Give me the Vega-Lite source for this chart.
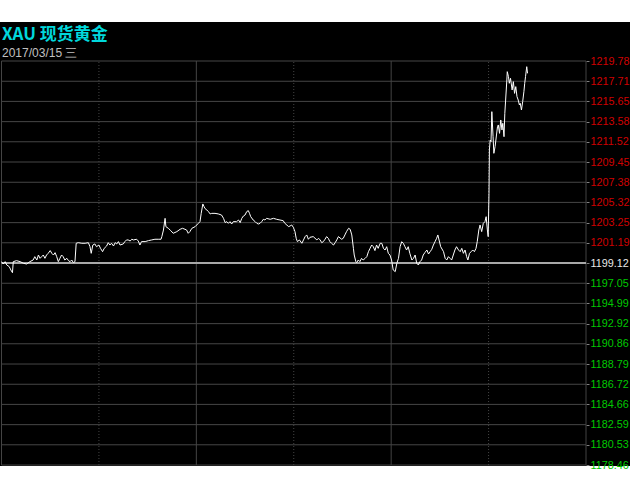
{
  "$schema": "https://vega.github.io/schema/vega-lite/v6.json",
  "width": 630,
  "height": 444,
  "autosize": {"type": "none"},
  "padding": {"left": 0, "top": 22, "right": 0, "bottom": 24},
  "background": "#ffffff",
  "title": {
    "text": "XAU 现货黄金",
    "subtitle": "2017/03/15 三",
    "anchor": "start",
    "frame": "group",
    "offset": -38,
    "dx": 2,
    "font": "Noto Sans CJK SC",
    "fontSize": 17,
    "fontWeight": "bold",
    "color": "#00d8dc",
    "subtitleFont": "Liberation Sans",
    "subtitleFontSize": 12,
    "subtitleColor": "#c0c0c0",
    "subtitlePadding": 4
  },
  "config": {
    "view": {"fill": "#000000", "stroke": null},
    "axisX": {"disable": true}
  },
  "datasets": {
    "levels": [
      {"p": 1178.46}, {"p": 1180.53}, {"p": 1182.59}, {"p": 1184.66}, {"p": 1186.72},
      {"p": 1188.79}, {"p": 1190.86}, {"p": 1192.92}, {"p": 1194.99}, {"p": 1197.05},
      {"p": 1199.12}, {"p": 1201.19}, {"p": 1203.25}, {"p": 1205.32}, {"p": 1207.38},
      {"p": 1209.45}, {"p": 1211.52}, {"p": 1213.58}, {"p": 1215.65}, {"p": 1217.71},
      {"p": 1219.78}
    ],
    "times": [
      {"t": 0}, {"t": 240}, {"t": 480}, {"t": 720}, {"t": 960}, {"t": 1200}, {"t": 1440}
    ],
    "prices": [
      {"t":0,"p":1199.26},{"t":4,"p":1199.02},{"t":9,"p":1199.26},{"t":13,"p":1198.92},{"t":19,"p":1198.75},
      {"t":23,"p":1198.41},{"t":27,"p":1198.13},{"t":29,"p":1199.26},{"t":37,"p":1199.36},{"t":46,"p":1199.26},
      {"t":54,"p":1199.09},{"t":62,"p":1199.02},{"t":70,"p":1199.26},{"t":78,"p":1199.43},{"t":82,"p":1199.77},
      {"t":87,"p":1199.43},{"t":91,"p":1199.94},{"t":95,"p":1199.60},{"t":99,"p":1199.77},{"t":103,"p":1199.94},
      {"t":107,"p":1199.60},{"t":111,"p":1199.94},{"t":115,"p":1200.11},{"t":120,"p":1200.39},{"t":124,"p":1200.11},
      {"t":128,"p":1199.94},{"t":132,"p":1200.18},{"t":136,"p":1199.77},{"t":140,"p":1199.26},{"t":144,"p":1199.60},
      {"t":148,"p":1199.94},{"t":152,"p":1199.77},{"t":156,"p":1199.43},{"t":161,"p":1199.60},{"t":165,"p":1199.36},
      {"t":169,"p":1199.26},{"t":173,"p":1199.43},{"t":177,"p":1199.16},{"t":181,"p":1199.26},{"t":184,"p":1201.14},
      {"t":189,"p":1201.20},{"t":198,"p":1201.14},{"t":206,"p":1201.14},{"t":214,"p":1201.20},{"t":218,"p":1200.79},
      {"t":221,"p":1200.11},{"t":225,"p":1200.96},{"t":230,"p":1201.07},{"t":234,"p":1200.79},{"t":240,"p":1200.96},
      {"t":244,"p":1200.62},{"t":249,"p":1200.28},{"t":253,"p":1200.62},{"t":259,"p":1200.86},{"t":263,"p":1201.20},
      {"t":267,"p":1200.96},{"t":271,"p":1201.14},{"t":276,"p":1200.86},{"t":280,"p":1201.20},{"t":284,"p":1201.07},
      {"t":288,"p":1201.31},{"t":292,"p":1200.96},{"t":300,"p":1201.07},{"t":304,"p":1201.31},{"t":308,"p":1201.48},
      {"t":312,"p":1201.48},{"t":317,"p":1201.37},{"t":321,"p":1201.55},{"t":325,"p":1201.48},{"t":333,"p":1201.55},
      {"t":337,"p":1201.37},{"t":341,"p":1200.96},{"t":345,"p":1201.31},{"t":354,"p":1201.31},{"t":362,"p":1201.41},
      {"t":370,"p":1201.48},{"t":378,"p":1201.55},{"t":386,"p":1201.55},{"t":393,"p":1201.55},{"t":395,"p":1201.82},
      {"t":399,"p":1202.50},{"t":403,"p":1203.69},{"t":405,"p":1202.84},{"t":411,"p":1202.67},{"t":417,"p":1202.43},
      {"t":423,"p":1202.16},{"t":432,"p":1202.33},{"t":440,"p":1202.57},{"t":446,"p":1202.67},{"t":452,"p":1202.57},
      {"t":456,"p":1202.50},{"t":460,"p":1202.16},{"t":464,"p":1202.33},{"t":469,"p":1202.67},{"t":477,"p":1202.84},
      {"t":485,"p":1203.18},{"t":489,"p":1203.35},{"t":492,"p":1204.20},{"t":496,"p":1205.16},{"t":499,"p":1204.89},
      {"t":501,"p":1204.71},{"t":506,"p":1204.54},{"t":510,"p":1204.37},{"t":514,"p":1204.14},{"t":518,"p":1204.20},
      {"t":526,"p":1204.20},{"t":534,"p":1204.14},{"t":542,"p":1204.03},{"t":547,"p":1203.69},{"t":551,"p":1203.25},
      {"t":555,"p":1203.35},{"t":559,"p":1203.18},{"t":563,"p":1203.35},{"t":567,"p":1203.11},{"t":571,"p":1203.35},
      {"t":579,"p":1203.35},{"t":584,"p":1203.52},{"t":588,"p":1203.25},{"t":592,"p":1203.69},{"t":596,"p":1203.93},
      {"t":600,"p":1204.03},{"t":604,"p":1204.37},{"t":608,"p":1204.48},{"t":611,"p":1204.20},{"t":614,"p":1203.86},
      {"t":620,"p":1203.52},{"t":625,"p":1203.35},{"t":629,"p":1203.18},{"t":633,"p":1203.11},{"t":637,"p":1203.18},
      {"t":641,"p":1203.35},{"t":645,"p":1203.59},{"t":649,"p":1203.52},{"t":653,"p":1203.69},{"t":662,"p":1203.59},
      {"t":670,"p":1203.69},{"t":678,"p":1203.59},{"t":686,"p":1203.52},{"t":694,"p":1203.45},{"t":698,"p":1203.18},
      {"t":703,"p":1203.01},{"t":707,"p":1202.84},{"t":711,"p":1202.91},{"t":715,"p":1203.01},{"t":719,"p":1202.77},
      {"t":723,"p":1202.33},{"t":726,"p":1201.65},{"t":729,"p":1201.31},{"t":734,"p":1201.48},{"t":740,"p":1201.14},
      {"t":744,"p":1201.48},{"t":748,"p":1201.82},{"t":752,"p":1201.99},{"t":756,"p":1201.55},{"t":760,"p":1201.75},
      {"t":768,"p":1201.82},{"t":777,"p":1201.48},{"t":781,"p":1201.65},{"t":785,"p":1201.48},{"t":789,"p":1201.20},
      {"t":793,"p":1201.31},{"t":797,"p":1201.55},{"t":801,"p":1201.82},{"t":805,"p":1201.65},{"t":809,"p":1201.31},
      {"t":813,"p":1201.14},{"t":818,"p":1200.96},{"t":822,"p":1201.20},{"t":826,"p":1201.48},{"t":830,"p":1201.82},
      {"t":838,"p":1201.55},{"t":842,"p":1201.65},{"t":846,"p":1201.99},{"t":850,"p":1202.33},{"t":855,"p":1202.67},
      {"t":859,"p":1202.57},{"t":863,"p":1201.99},{"t":867,"p":1200.62},{"t":869,"p":1199.94},{"t":873,"p":1199.26},
      {"t":875,"p":1199.16},{"t":879,"p":1199.43},{"t":883,"p":1199.26},{"t":887,"p":1199.60},{"t":891,"p":1199.43},
      {"t":896,"p":1199.60},{"t":900,"p":1199.77},{"t":904,"p":1200.28},{"t":908,"p":1200.62},{"t":912,"p":1200.96},
      {"t":916,"p":1200.79},{"t":920,"p":1200.39},{"t":924,"p":1200.96},{"t":928,"p":1200.62},{"t":933,"p":1201.14},
      {"t":937,"p":1201.13},{"t":941,"p":1200.62},{"t":945,"p":1200.45},{"t":949,"p":1200.79},{"t":953,"p":1200.11},
      {"t":957,"p":1199.94},{"t":961,"p":1199.43},{"t":965,"p":1198.41},{"t":970,"p":1198.24},{"t":974,"p":1199.09},
      {"t":978,"p":1199.60},{"t":982,"p":1200.79},{"t":986,"p":1201.30},{"t":990,"p":1201.13},{"t":994,"p":1200.79},
      {"t":998,"p":1200.45},{"t":1002,"p":1200.79},{"t":1006,"p":1200.11},{"t":1011,"p":1199.43},{"t":1015,"p":1199.60},
      {"t":1019,"p":1199.94},{"t":1023,"p":1199.09},{"t":1027,"p":1198.92},{"t":1031,"p":1199.26},{"t":1035,"p":1199.43},
      {"t":1039,"p":1199.94},{"t":1043,"p":1200.18},{"t":1048,"p":1200.45},{"t":1052,"p":1200.04},{"t":1056,"p":1200.28},
      {"t":1060,"p":1200.52},{"t":1064,"p":1200.96},{"t":1068,"p":1201.30},{"t":1072,"p":1201.65},{"t":1075,"p":1201.99},
      {"t":1078,"p":1201.47},{"t":1082,"p":1200.79},{"t":1089,"p":1200.28},{"t":1093,"p":1199.60},{"t":1097,"p":1199.43},
      {"t":1101,"p":1199.77},{"t":1105,"p":1199.60},{"t":1109,"p":1199.43},{"t":1113,"p":1199.94},{"t":1117,"p":1200.45},
      {"t":1121,"p":1200.79},{"t":1126,"p":1200.45},{"t":1130,"p":1200.28},{"t":1134,"p":1200.62},{"t":1138,"p":1200.11},
      {"t":1142,"p":1200.45},{"t":1146,"p":1199.77},{"t":1149,"p":1199.43},{"t":1153,"p":1200.11},{"t":1157,"p":1200.28},
      {"t":1161,"p":1200.45},{"t":1165,"p":1200.28},{"t":1169,"p":1200.62},{"t":1172,"p":1201.30},{"t":1176,"p":1202.50},
      {"t":1179,"p":1203.01},{"t":1183,"p":1202.33},{"t":1187,"p":1203.18},{"t":1191,"p":1203.35},{"t":1194,"p":1203.86},
      {"t":1197,"p":1202.50},{"t":1199,"p":1201.82},{"t":1201,"p":1206.25},{"t":1202,"p":1210.68},{"t":1204,"p":1211.70},
      {"t":1206,"p":1211.53},{"t":1208,"p":1214.60},{"t":1211,"p":1212.04},{"t":1213,"p":1210.34},{"t":1216,"p":1211.02},
      {"t":1218,"p":1211.70},{"t":1222,"p":1213.07},{"t":1224,"p":1213.24},{"t":1227,"p":1212.38},{"t":1230,"p":1213.75},
      {"t":1233,"p":1212.73},{"t":1235,"p":1213.41},{"t":1238,"p":1212.04},{"t":1240,"p":1214.43},{"t":1242,"p":1215.79},
      {"t":1245,"p":1217.84},{"t":1246,"p":1218.69},{"t":1249,"p":1218.18},{"t":1251,"p":1217.50},{"t":1254,"p":1218.01},
      {"t":1258,"p":1216.82},{"t":1261,"p":1217.67},{"t":1264,"p":1216.47},{"t":1267,"p":1217.16},{"t":1270,"p":1216.14},
      {"t":1273,"p":1215.79},{"t":1276,"p":1215.28},{"t":1278,"p":1215.45},{"t":1281,"p":1214.77},{"t":1284,"p":1215.62},
      {"t":1287,"p":1216.64},{"t":1289,"p":1217.50},{"t":1291,"p":1218.18},{"t":1294,"p":1219.20},{"t":1296,"p":1218.52}
    ]
  },
  "layer": [
    {
      "data": {"name": "levels"},
      "mark": {"type": "rule", "stroke": "#464646", "strokeWidth": 1},
      "encoding": {
        "x": {"datum": 0, "type": "quantitative"},
        "x2": {"datum": 1440},
        "y": {"field": "p", "type": "quantitative"}
      }
    },
    {
      "data": {"name": "times"},
      "mark": {"type": "rule", "stroke": "#464646", "strokeWidth": 1},
      "encoding": {
        "x": {"field": "t", "type": "quantitative"},
        "y": {"datum": 1178.46, "type": "quantitative"},
        "y2": {"datum": 1219.78},
        "strokeDash": {
          "condition": {"test": "datum.t % 480 == 240", "value": [1, 2]},
          "value": [1, 0]
        }
      }
    },
    {
      "data": {"values": [{}]},
      "mark": {"type": "rule", "stroke": "#a8a8a8", "strokeWidth": 2},
      "encoding": {
        "x": {"datum": 0, "type": "quantitative"},
        "x2": {"datum": 1440},
        "y": {"datum": 1199.12, "type": "quantitative"}
      }
    },
    {
      "data": {"name": "prices"},
      "mark": {"type": "line", "stroke": "#ffffff", "strokeWidth": 1, "interpolate": "linear"},
      "encoding": {
        "x": {
          "field": "t",
          "type": "quantitative",
          "scale": {"domain": [-3.7, 1548.4], "nice": false, "zero": false},
          "axis": null
        },
        "y": {
          "field": "p",
          "type": "quantitative",
          "scale": {"domain": [1178.36, 1223.77], "nice": false, "zero": false},
          "axis": {
            "orient": "right",
            "offset": -44,
            "title": null,
            "grid": false,
            "domain": false,
            "values": [1178.46, 1180.53, 1182.59, 1184.66, 1186.72, 1188.79, 1190.86, 1192.92, 1194.99, 1197.05, 1199.12, 1201.19, 1203.25, 1205.32, 1207.38, 1209.45, 1211.52, 1213.58, 1215.65, 1217.71, 1219.78],
            "tickCount": 40,
            "format": ".2f",
            "ticks": true,
            "tickSize": 3,
            "tickColor": "#808080",
            "labelPadding": 1,
            "labelFont": "Liberation Sans",
            "labelFontSize": 10.8,
            "labelBaseline": "middle",
            "labelOverlap": false,
            "labelFlush": false,
            "labelBound": false,
            "labelColor": {
              "condition": [
                {"test": "datum.value > 1199.5", "value": "#d00000"},
                {"test": "datum.value > 1198.5", "value": "#e8e8e8"}
              ],
              "value": "#00c800"
            }
          }
        }
      }
    }
  ]
}
